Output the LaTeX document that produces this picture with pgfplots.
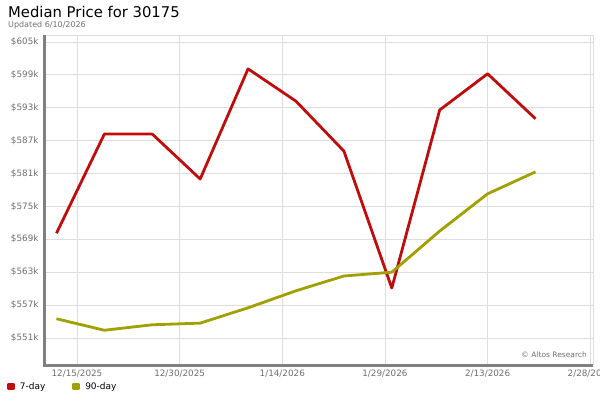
\documentclass[border=0pt]{standalone}
\usepackage{pgfplots}
\pgfplotsset{compat=1.18}
\usepackage{fontspec}
\setmainfont{DejaVu Sans}
\definecolor{redline}{RGB}{192,12,12}
\definecolor{oliveline}{RGB}{160,160,0}
\definecolor{gridc}{RGB}{221,221,221}
\definecolor{axisc}{RGB}{128,128,128}
\definecolor{labelc}{RGB}{110,110,110}
\begin{document}
\begin{tikzpicture}[x=1pt,y=1pt]
\useasboundingbox (0,0) rectangle (600,400);
\node[anchor=base west,font=\fontsize{14.8}{15}\selectfont,inner sep=0pt] at (8,382) {Median Price for 30175};
\node[anchor=base west,font=\fontsize{8}{9}\selectfont,text=labelc,inner sep=0pt] at (8,372) {Updated 6/10/2026};
\begin{axis}[
  at={(44pt,35pt)}, anchor=south west,
  scale only axis, width=549pt, height=330pt,
  xmin=-4.82, xmax=75.4, ymin=546.06, ymax=606.28,
  axis line style={draw=none},
  xtick={0,15,30,45,60,75},
  xticklabels={12/15/2025,12/30/2025,1/14/2026,1/29/2026,2/13/2026,2/28/2026},
  ytick={551,557,563,569,575,581,587,593,599,605},
  yticklabels={\$551k,\$557k,\$563k,\$569k,\$575k,\$581k,\$587k,\$593k,\$599k,\$605k},
  major tick length=0pt,
  grid=major, major grid style={gridc, line width=0.8pt},
  tick label style={font=\fontsize{8.8}{9}\selectfont, text=labelc},
  /pgf/number format/assume math mode=true,
  yticklabel style={xshift=-2pt},
  xticklabel style={yshift=-1pt},
  legend style={at={(rel axis cs:-0.0675,-0.065)}, anchor=west, draw=none, fill=none,
    font=\fontsize{9}{10}\selectfont, legend columns=2, inner sep=0pt,
    /tikz/every odd column/.append style={column sep=3pt},
    /tikz/every even column/.append style={column sep=25pt}},
  legend image code/.code={\fill[#1] (0pt,-2.5pt) rectangle (5pt,2.5pt);},
  clip=false,
]
\addplot[redline, line width=2.8pt, line join=round, mark=none] coordinates {
(-3,570.1) (4,588.2) (11,588.2) (18,580.0) (25,600.1) (32,594.2)
(39,585.1) (46,560.1) (53,592.6) (60,599.2) (67,591.0)};
\addlegendentry{7-day}
\addplot[oliveline, line width=2.8pt, line join=round, mark=none] coordinates {
(-3,554.5) (4,552.4) (11,553.4) (18,553.7) (25,556.5) (32,559.6)
(39,562.3) (46,563.0) (53,570.5) (60,577.3) (67,581.3)};
\addlegendentry{90-day}
\draw[gridc, line width=0.8pt] (rel axis cs:0,1) -- (rel axis cs:1,1) -- (rel axis cs:1,0);
\draw[axisc, line width=3pt] (rel axis cs:0,1) -- (rel axis cs:0,0) -- (rel axis cs:1,0);
\node[anchor=south east, font=\fontsize{7.5}{8}\selectfont, text=labelc, inner sep=0pt] at ([xshift=-6pt,yshift=7pt]rel axis cs:1,0) {© Altos Research};
\end{axis}
\end{tikzpicture}
\end{document}
